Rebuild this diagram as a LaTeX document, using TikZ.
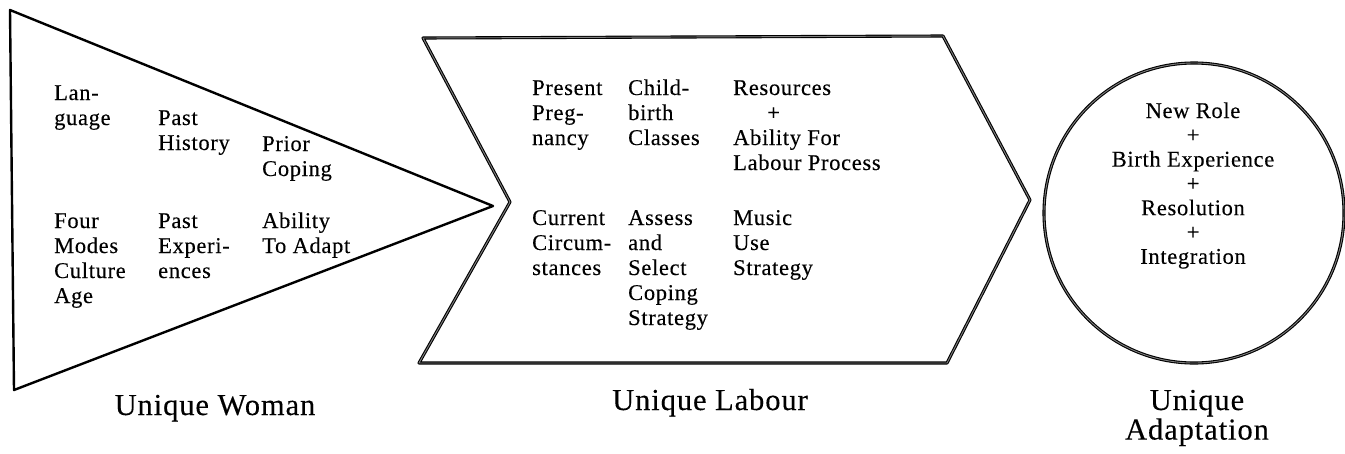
\documentclass[tikz,border=0pt]{standalone}
\usepackage{fontspec}
\setmainfont{Liberation Serif}[LetterSpace=3,FakeBold=0.25]
\newfontfamily\capfont{Liberation Serif}[LetterSpace=3,FakeBold=0.2]
\newcommand\colblock[1]{\begin{tabular}[t]{@{}l@{}}#1\end{tabular}}
\newcommand\midblock[1]{\begin{tabular}[t]{@{}c@{}}#1\end{tabular}}
\begin{document}
\begin{tikzpicture}[x=1pt,y=-1pt,
  solidedge/.style={draw=black,line width=2.4pt,line join=round},
  doubleedge/.style={draw=black,line width=1.1pt,double=black!50,double distance=0.9pt,line join=round},
  itemtext/.style={inner sep=0pt,anchor=base west,font=\fontsize{22.5}{25}\selectfont},
  roundtext/.style={inner sep=0pt,anchor=base,font=\fontsize{22.5}{24.3}\selectfont},
  caption/.style={inner sep=0pt,anchor=base,font=\capfont\fontsize{30.5}{28}\selectfont}]
\useasboundingbox (0,0) rectangle (1345,453);

% Unique Woman: triangle pointing right
\coordinate (wtl) at (10,10);
\coordinate (wbl) at (14,390);
\coordinate (wtip) at (493,206);
\draw[solidedge] (wtl) -- (wtip) -- (wbl) -- cycle;

% Unique Labour: chevron
\coordinate (ltl) at (423,38);
\coordinate (ltr) at (943,36);
\coordinate (ltip) at (1030,200);
\coordinate (lbr) at (947,363);
\coordinate (lbl) at (419,363);
\coordinate (lnotch) at (510,202);
\draw[doubleedge] (ltl) -- (ltr) -- (ltip) -- (lbr) -- (lbl) -- (lnotch) -- cycle;

% Unique Adaptation: circle
\coordinate (acen) at (1194,213);
\draw[doubleedge] (acen) circle[radius=150];

% texts in the triangle
\node[itemtext] (lang) at (54,100) {\colblock{Lan-\\guage}};
\node[itemtext] (hist) at (158,125) {\colblock{Past\\History}};
\node[itemtext] (prior) at (262,151) {\colblock{Prior\\Coping}};
\node[itemtext] (modes) at (54,228) {\colblock{Four\\Modes\\Culture\\Age}};
\node[itemtext] (exper) at (158,228) {\colblock{Past\\Experi-\\ences}};
\node[itemtext] (adapt) at (262,228) {\colblock{Ability\\To Adapt}};

% texts in the chevron
\node[itemtext] (preg) at (532,95) {\colblock{Present\\Preg-\\nancy}};
\node[itemtext] (classes) at (628,95) {\colblock{Child-\\birth\\Classes}};
\node[itemtext] (resources) at (733,95) {\colblock{Resources\\\hspace*{34pt}+\\Ability For\\Labour Process}};
\node[itemtext] (circ) at (532,225) {\colblock{Current\\Circum-\\stances}};
\node[itemtext] (assess) at (628,225) {\colblock{Assess\\and\\Select\\Coping\\Strategy}};
\node[itemtext] (music) at (733,225) {\colblock{Music\\Use\\Strategy}};

% text in the circle
\node[roundtext] (role) at (1193,118) {\midblock{New Role\\+\\Birth Experience\\+\\Resolution\\+\\Integration}};

% captions
\node[caption] (woman) at (215,415) {Unique Woman};
\node[caption] (labour) at (710,410) {Unique Labour};
\node[caption] (adaptation) at (1197,410) {\midblock{Unique\\Adaptation}};
\end{tikzpicture}
\end{document}
